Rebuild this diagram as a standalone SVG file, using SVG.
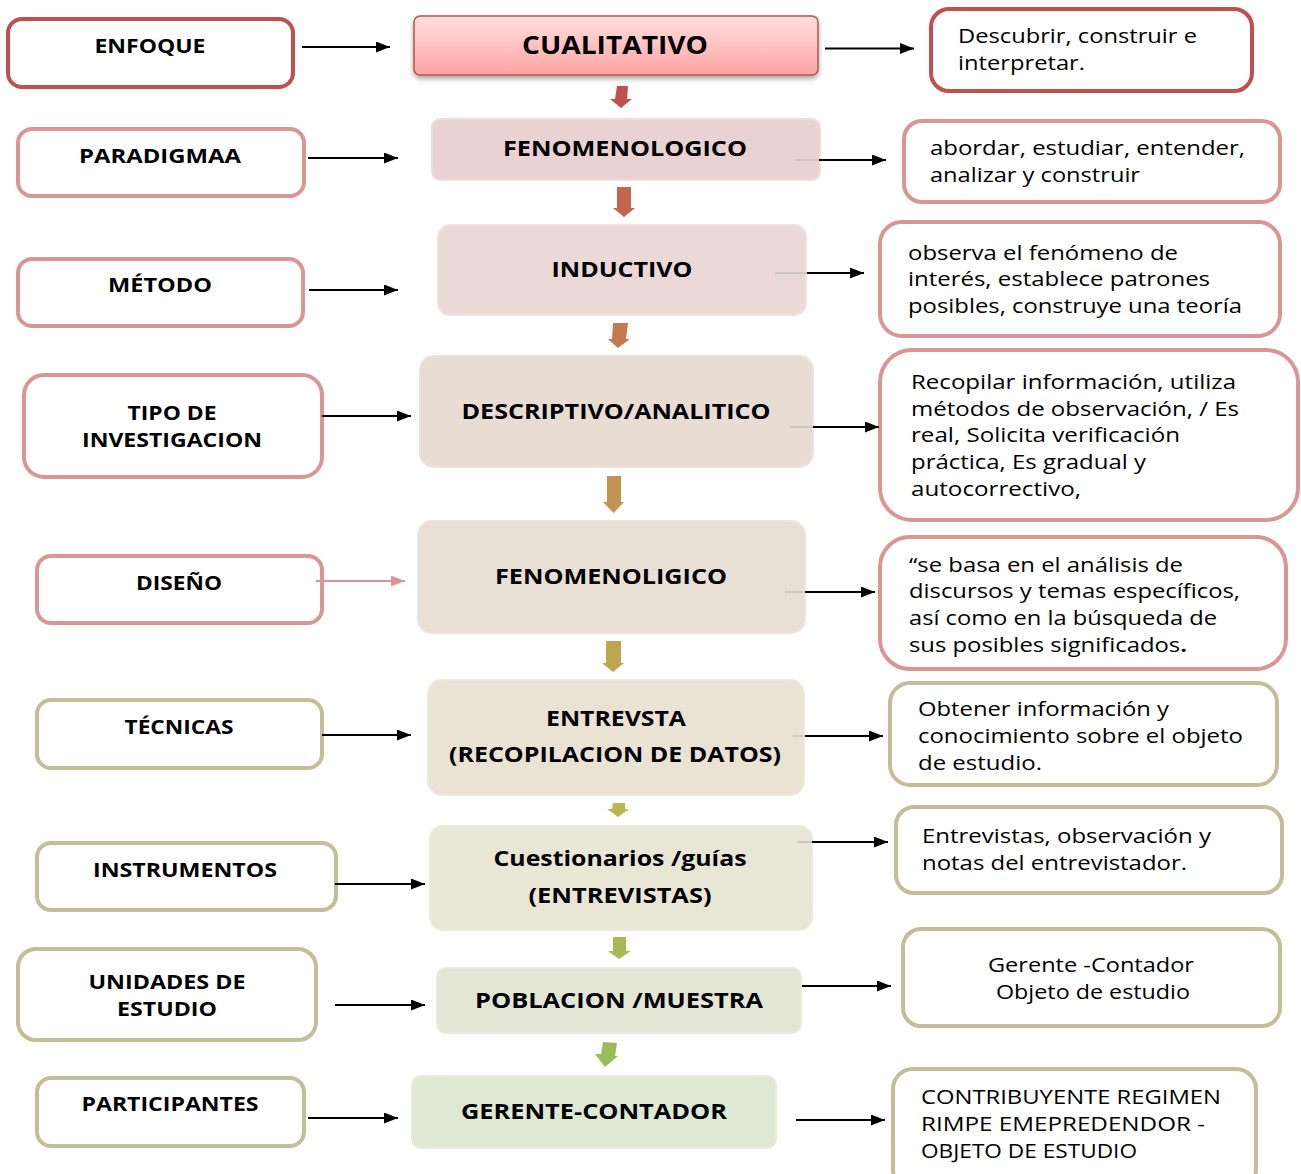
<svg xmlns="http://www.w3.org/2000/svg" width="1301" height="1174" viewBox="0 0 1301 1174">
<defs>
<style>
.lbl{font-family:"Open Sans","Liberation Sans",sans-serif;font-weight:700;font-size:19.5px;fill:#000;text-anchor:middle}
.ctr{font-family:"Open Sans","Liberation Sans",sans-serif;font-weight:700;font-size:21.5px;fill:#000;text-anchor:middle}
.txt{font-family:"Open Sans","Liberation Sans",sans-serif;font-weight:400;font-size:19.5px;fill:#000}
.red{fill:#fff;stroke:#c0504d;stroke-width:4}
.pink{fill:#fff;stroke:#d99694;stroke-width:4}
.tan{fill:#fff;stroke:#c4bd97;stroke-width:4}
.conn{stroke:#000;stroke-width:2;fill:none}
.stub{stroke:#c8c8c8;stroke-width:2;fill:none}
</style>
<linearGradient id="gq" x1="0" y1="0" x2="0" y2="1">
<stop offset="0" stop-color="#ffe0df"/>
<stop offset="1" stop-color="#ffa4a2"/>
</linearGradient>
<filter id="sh" x="-10%" y="-20%" width="120%" height="160%">
<feDropShadow dx="0" dy="3" stdDeviation="2.5" flood-color="#000" flood-opacity="0.35"/>
</filter>
<marker id="ah" markerUnits="userSpaceOnUse" markerWidth="15" markerHeight="12" refX="14" refY="5.5" orient="auto">
<path d="M0,0 L14,5.5 L0,11 z" fill="#000"/>
</marker>
<marker id="ahp" markerUnits="userSpaceOnUse" markerWidth="15" markerHeight="12" refX="14" refY="5.5" orient="auto">
<path d="M0,0 L14,5.5 L0,11 z" fill="#d99694"/>
</marker>
</defs>
<rect width="1301" height="1174" fill="#fff"/>

<!-- Left nodes -->
<g id="l-enfoque"><rect class="red" x="8" y="19" width="285" height="68" rx="14"/><text class="lbl" x="150" y="53" textLength="111" lengthAdjust="spacingAndGlyphs">ENFOQUE</text></g>
<g id="l-paradigma"><rect class="pink" x="18" y="129" width="286" height="67" rx="14"/><text class="lbl" x="160" y="163" textLength="162" lengthAdjust="spacingAndGlyphs">PARADIGMAA</text></g>
<g id="l-metodo"><rect class="pink" x="18" y="259" width="285" height="67" rx="14"/><text class="lbl" x="160" y="292" textLength="104" lengthAdjust="spacingAndGlyphs">MÉTODO</text></g>
<g id="l-tipo"><rect class="pink" x="24" y="375" width="298" height="102" rx="20"/><text class="lbl" x="172" y="420" textLength="89" lengthAdjust="spacingAndGlyphs">TIPO DE</text><text class="lbl" x="172" y="447" textLength="180" lengthAdjust="spacingAndGlyphs">INVESTIGACION</text></g>
<g id="l-diseno"><rect class="pink" x="37" y="556" width="285" height="67" rx="14"/><text class="lbl" x="179" y="590" textLength="86" lengthAdjust="spacingAndGlyphs">DISEÑO</text></g>
<g id="l-tecnicas"><rect class="tan" x="37" y="700" width="285" height="68" rx="14"/><text class="lbl" x="179" y="734" textLength="109" lengthAdjust="spacingAndGlyphs">TÉCNICAS</text></g>
<g id="l-instrumentos"><rect class="tan" x="37" y="843" width="299" height="67" rx="14"/><text class="lbl" x="185" y="877" textLength="184" lengthAdjust="spacingAndGlyphs">INSTRUMENTOS</text></g>
<g id="l-unidades"><rect class="tan" x="18" y="949" width="298" height="91" rx="18"/><text class="lbl" x="167" y="989" textLength="157" lengthAdjust="spacingAndGlyphs">UNIDADES DE</text><text class="lbl" x="167" y="1016" textLength="100" lengthAdjust="spacingAndGlyphs">ESTUDIO</text></g>
<g id="l-participantes"><rect class="tan" x="37" y="1078" width="267" height="68" rx="14"/><text class="lbl" x="170" y="1111" textLength="177" lengthAdjust="spacingAndGlyphs">PARTICIPANTES</text></g>

<!-- Center nodes -->
<g id="c-cualitativo"><rect x="414" y="16" width="404" height="59" rx="6" fill="url(#gq)" stroke="#c0504d" stroke-width="1.5" filter="url(#sh)"/><text class="ctr" style="font-size:25px" x="615" y="54" textLength="186" lengthAdjust="spacingAndGlyphs">CUALITATIVO</text></g>
<g id="c-fenomenologico"><rect x="432" y="119" width="388" height="61" rx="8" fill="#e8d3d2" stroke="#ecdedd" stroke-width="2"/><text class="ctr" x="625" y="156" textLength="244" lengthAdjust="spacingAndGlyphs">FENOMENOLOGICO</text></g>
<g id="c-inductivo"><rect x="438" y="225" width="368" height="90" rx="12" fill="#ead9d7" stroke="#eee1df" stroke-width="2"/><text class="ctr" x="622" y="277" textLength="141" lengthAdjust="spacingAndGlyphs">INDUCTIVO</text></g>
<g id="c-descriptivo"><rect x="420" y="356" width="393" height="111" rx="14" fill="#e9dcd3" stroke="#ede2da" stroke-width="2"/><text class="ctr" x="616" y="419" textLength="309" lengthAdjust="spacingAndGlyphs">DESCRIPTIVO/ANALITICO</text></g>
<g id="c-fenomenoligico"><rect x="418" y="521" width="387" height="112" rx="14" fill="#e9e0d5" stroke="#ede5db" stroke-width="2"/><text class="ctr" x="611" y="584" textLength="232" lengthAdjust="spacingAndGlyphs">FENOMENOLIGICO</text></g>
<g id="c-entrevista"><rect x="428" y="680" width="376" height="115" rx="14" fill="#e9e3d4" stroke="#ede8db" stroke-width="2"/><text class="ctr" x="616" y="726" textLength="140" lengthAdjust="spacingAndGlyphs">ENTREVSTA</text><text class="ctr" x="615" y="762" textLength="332" lengthAdjust="spacingAndGlyphs">(RECOPILACION DE DATOS)</text></g>
<g id="c-cuestionarios"><rect x="430" y="826" width="382" height="104" rx="13" fill="#e8e7d5" stroke="#ecebdc" stroke-width="2"/><text class="ctr" x="620" y="866" textLength="253" lengthAdjust="spacingAndGlyphs">Cuestionarios /guías</text><text class="ctr" x="620" y="903" textLength="183" lengthAdjust="spacingAndGlyphs">(ENTREVISTAS)</text></g>
<g id="c-poblacion"><rect x="437" y="968" width="364" height="65" rx="9" fill="#e4e6d5" stroke="#e9eadc" stroke-width="2"/><text class="ctr" x="619" y="1008" textLength="288" lengthAdjust="spacingAndGlyphs">POBLACION /MUESTRA</text></g>
<g id="c-gerente"><rect x="412" y="1076" width="364" height="72" rx="9" fill="#dfe8d3" stroke="#e5ecdb" stroke-width="2"/><text class="ctr" x="594" y="1119" textLength="266" lengthAdjust="spacingAndGlyphs">GERENTE-CONTADOR</text></g>

<!-- Right nodes -->
<g id="r-1"><rect class="red" x="931" y="9" width="321" height="82" rx="18"/><text class="txt" x="958" y="43" textLength="239" lengthAdjust="spacingAndGlyphs">Descubrir, construir e</text><text class="txt" x="958" y="70" textLength="127" lengthAdjust="spacingAndGlyphs">interpretar.</text></g>
<g id="r-2"><rect class="pink" x="904" y="121" width="376" height="81" rx="18"/><text class="txt" x="930" y="155" textLength="315" lengthAdjust="spacingAndGlyphs">abordar, estudiar, entender,</text><text class="txt" x="930" y="182" textLength="210" lengthAdjust="spacingAndGlyphs">analizar y construir</text></g>
<g id="r-3"><rect class="pink" x="880" y="222" width="400" height="114" rx="22"/><text class="txt" x="908" y="260" textLength="270" lengthAdjust="spacingAndGlyphs">observa el fenómeno de</text><text class="txt" x="908" y="286" textLength="302" lengthAdjust="spacingAndGlyphs">interés, establece patrones</text><text class="txt" x="908" y="313" textLength="334" lengthAdjust="spacingAndGlyphs">posibles, construye una teoría</text></g>
<g id="r-4"><rect class="pink" x="880" y="350" width="418" height="170" rx="32"/><text class="txt" x="911" y="389" textLength="325" lengthAdjust="spacingAndGlyphs">Recopilar información, utiliza</text><text class="txt" x="911" y="416" textLength="328" lengthAdjust="spacingAndGlyphs">métodos de observación, / Es</text><text class="txt" x="911" y="442" textLength="269" lengthAdjust="spacingAndGlyphs">real, Solicita verificación</text><text class="txt" x="911" y="469" textLength="235" lengthAdjust="spacingAndGlyphs">práctica, Es gradual y</text><text class="txt" x="911" y="496" textLength="170" lengthAdjust="spacingAndGlyphs">autocorrectivo,</text></g>
<g id="r-5"><rect class="pink" x="880" y="537" width="406" height="132" rx="30"/><text class="txt" x="909" y="572" textLength="274" lengthAdjust="spacingAndGlyphs">“se basa en el análisis de</text><text class="txt" x="909" y="598" textLength="331" lengthAdjust="spacingAndGlyphs">discursos y temas específicos,</text><text class="txt" x="909" y="625" textLength="308" lengthAdjust="spacingAndGlyphs">así como en la búsqueda de</text><text class="txt" x="909" y="652" textLength="278" lengthAdjust="spacingAndGlyphs">sus posibles significados<tspan font-weight="700">.</tspan></text></g>
<g id="r-6"><rect class="tan" x="890" y="683" width="387" height="102" rx="20"/><text class="txt" x="918" y="716" textLength="251" lengthAdjust="spacingAndGlyphs">Obtener información y</text><text class="txt" x="918" y="743" textLength="325" lengthAdjust="spacingAndGlyphs">conocimiento sobre el objeto</text><text class="txt" x="918" y="770" textLength="124" lengthAdjust="spacingAndGlyphs">de estudio.</text></g>
<g id="r-7"><rect class="tan" x="896" y="807" width="386" height="86" rx="18"/><text class="txt" x="922" y="843" textLength="289" lengthAdjust="spacingAndGlyphs">Entrevistas, observación y</text><text class="txt" x="922" y="870" textLength="265" lengthAdjust="spacingAndGlyphs">notas del entrevistador.</text></g>
<g id="r-8"><rect class="tan" x="903" y="929" width="377" height="97" rx="18"/><text class="txt" x="1091" y="972" text-anchor="middle" textLength="206" lengthAdjust="spacingAndGlyphs">Gerente -Contador</text><text class="txt" x="1093" y="999" text-anchor="middle" textLength="194" lengthAdjust="spacingAndGlyphs">Objeto de estudio</text></g>
<g id="r-9"><rect class="tan" x="893" y="1069" width="363" height="120" rx="20"/><text class="txt" x="921" y="1104" textLength="300" lengthAdjust="spacingAndGlyphs">CONTRIBUYENTE REGIMEN</text><text class="txt" x="921" y="1131" textLength="284" lengthAdjust="spacingAndGlyphs">RIMPE EMEPREDENDOR -</text><text class="txt" x="921" y="1158" textLength="216" lengthAdjust="spacingAndGlyphs">OBJETO DE ESTUDIO</text></g>

<!-- Connectors -->
<g id="connectors">
<line class="conn" x1="302" y1="47" x2="390" y2="47" marker-end="url(#ah)"/>
<line class="conn" x1="308" y1="158" x2="398" y2="158" marker-end="url(#ah)"/>
<line class="conn" x1="309" y1="290" x2="398" y2="290" marker-end="url(#ah)"/>
<line class="conn" x1="322" y1="416" x2="411" y2="416" marker-end="url(#ah)"/>
<line x1="316" y1="581" x2="405" y2="581" stroke="#d99694" stroke-width="2" marker-end="url(#ahp)"/>
<line class="conn" x1="322" y1="735" x2="411" y2="735" marker-end="url(#ah)"/>
<line class="conn" x1="335" y1="884" x2="425" y2="884" marker-end="url(#ah)"/>
<line class="conn" x1="335" y1="1005" x2="425" y2="1005" marker-end="url(#ah)"/>
<line class="conn" x1="308" y1="1118" x2="398" y2="1118" marker-end="url(#ah)"/>

<line class="conn" x1="825" y1="48.5" x2="914" y2="48.5" marker-end="url(#ah)"/>
<line class="stub" x1="797" y1="160" x2="819" y2="160"/>
<line class="conn" x1="819" y1="160" x2="886" y2="160" marker-end="url(#ah)"/>
<line class="stub" x1="775" y1="273" x2="807" y2="273"/>
<line class="conn" x1="807" y1="273" x2="864" y2="273" marker-end="url(#ah)"/>
<line class="stub" x1="790" y1="427" x2="813" y2="427"/>
<line class="conn" x1="813" y1="427" x2="879" y2="427" marker-end="url(#ah)"/>
<line class="stub" x1="785" y1="592" x2="805" y2="592"/>
<line class="conn" x1="805" y1="592" x2="875" y2="592" marker-end="url(#ah)"/>
<line class="stub" x1="793" y1="736" x2="805" y2="736"/>
<line class="conn" x1="805" y1="736" x2="883" y2="736" marker-end="url(#ah)"/>
<line class="stub" x1="798" y1="842" x2="812" y2="842"/>
<line class="conn" x1="812" y1="842" x2="888" y2="842" marker-end="url(#ah)"/>
<line class="conn" x1="802" y1="986" x2="891" y2="986" marker-end="url(#ah)"/>
<line class="conn" x1="796" y1="1120" x2="885" y2="1120" marker-end="url(#ah)"/>

<polygon fill="#c0504d" points="617,86 628,86 627,99 632,99 621,108 610,99 615,99"/>
<polygon fill="#c2654f" points="617,187 631,187 631,208 635,208 624,217 613,208 617,208"/>
<polygon fill="#c27b50" points="613,323 628,323 626,339 630,339 618,348 608,339 612,339"/>
<polygon fill="#c19451" points="607,476 621,476 621,502 624,502 613.5,513 603,502 607,502"/>
<polygon fill="#c0a550" points="606,641 621,641 621,663 624,663 613,672 602,663 606,663"/>
<polygon fill="#bcb553" points="613,803 625,803 625,809 629,809 618,817 607,809 612,809"/>
<polygon fill="#a9b957" points="613,937 626,937 626,951 631,951 619,959 608,951 613,951"/>
<polygon fill="#9bbb59" points="603,1042 617,1043 615,1056 618,1056 605,1067 595,1054 601,1054"/>
</g>
</svg>
